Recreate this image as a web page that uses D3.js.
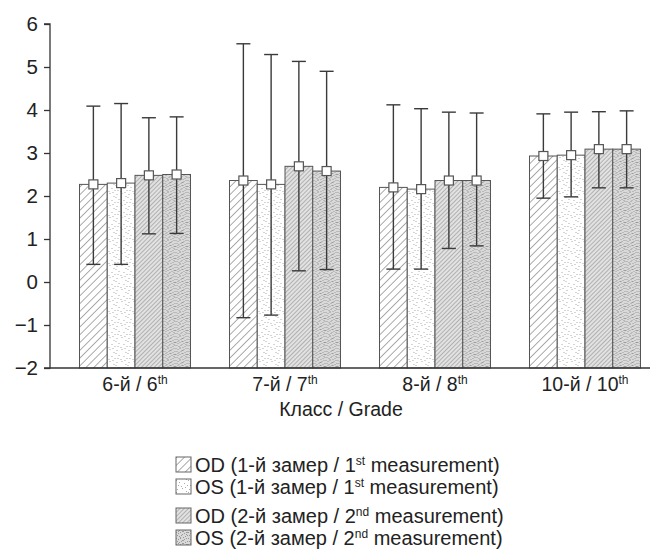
<!DOCTYPE html>
<html>
<head>
<meta charset="utf-8">
<script src="https://cdn.jsdelivr.net/npm/d3@7"></script>
<style>
  body { margin: 0; background: #fff; }
  svg { font-family: "Liberation Sans", Arial, sans-serif; }
</style>
</head>
<body>
<svg id="chart" width="665" height="554"></svg>
<script>
// grades on the x axis
const grades = ["6-й / 6", "7-й / 7", "8-й / 8", "10-й / 10"];
const gradeSup = ["th", "th", "th", "th"];
const seriesKeys = ["OD1", "OS1", "OD2", "OS2"];

// mean values (bar tops)
const meanOD1 = [2.27, 2.36, 2.20, 2.93];
const meanOS1 = [2.30, 2.27, 2.16, 2.95];
const meanOD2 = [2.48, 2.69, 2.36, 3.09];
const meanOS2 = [2.50, 2.58, 2.36, 3.09];

// error bar ends
const upperOD1 = [4.09, 5.54, 4.12, 3.91];
const upperOS1 = [4.15, 5.29, 4.03, 3.95];
const upperOD2 = [3.82, 5.13, 3.95, 3.96];
const upperOS2 = [3.84, 4.90, 3.93, 3.98];
const lowerOD1 = [0.41, -0.83, 0.30, 1.95];
const lowerOS1 = [0.41, -0.77, 0.30, 1.98];
const lowerOD2 = [1.12, 0.26, 0.78, 2.19];
const lowerOS2 = [1.13, 0.29, 0.84, 2.19];

const yTicks = [-2, -1, 0, 1, 2, 3, 4, 5, 6];

const legendLabels = [
  ["OD (1-й замер / 1", "st", " measurement)"],
  ["OS (1-й замер / 1", "st", " measurement)"],
  ["OD (2-й замер / 2", "nd", " measurement)"],
  ["OS (2-й замер / 2", "nd", " measurement)"]
];

const means = { OD1: meanOD1, OS1: meanOS1, OD2: meanOD2, OS2: meanOS2 };
const uppers = { OD1: upperOD1, OS1: upperOS1, OD2: upperOD2, OS2: upperOS2 };
const lowers = { OD1: lowerOD1, OS1: lowerOS1, OD2: lowerOD2, OS2: lowerOS2 };

const svg = d3.select("#chart");
const defs = svg.append("defs");

// --- fill patterns ---
function hatch(id, size, bg, stroke, sw) {
  const p = defs.append("pattern").attr("id", id)
    .attr("patternUnits", "userSpaceOnUse")
    .attr("width", size).attr("height", size)
    .attr("patternTransform", "rotate(45)");
  p.append("rect").attr("width", size).attr("height", size).attr("fill", bg);
  p.append("line").attr("x1", 0).attr("y1", 0).attr("x2", 0).attr("y2", size)
    .attr("stroke", stroke).attr("stroke-width", sw);
}
hatch("pOD1", 5.5, "#fff", "#666", 1.1);
hatch("pOD2", 3, "#e2e2e2", "#808080", 1);

// dot positions inside a 12x12 tile (texture only)
const sparseDots = [[1,2],[6,1],[10,4],[3,7],[8,8],[5,11],[11,10],[0,5],[9,0],[2,10]];
const denseDots = [[0,0],[2,1],[4,0],[6,2],[8,1],[10,0],[1,3],[3,4],[5,3],[7,5],[9,4],[11,3],
  [0,6],[2,7],[4,6],[6,8],[8,7],[10,6],[1,9],[3,10],[5,9],[7,11],[9,10],[11,9],
  [2,5],[7,2],[10,8],[4,11],[6,5],[11,6]];
function stipple(id, bg, dots, col, r) {
  const p = defs.append("pattern").attr("id", id)
    .attr("patternUnits", "userSpaceOnUse").attr("width", 12).attr("height", 12);
  p.append("rect").attr("width", 12).attr("height", 12).attr("fill", bg);
  p.selectAll("rect.d").data(dots).enter().append("rect").attr("class", "d")
    .attr("x", d => d[0]).attr("y", d => d[1]).attr("width", r).attr("height", r)
    .attr("fill", col);
}
stipple("pOS1", "#fff", sparseDots, "#aaa", 1);
stipple("pOS2", "#d9d9d9", denseDots, "#9a9a9a", 1);

const fills = { OD1: "url(#pOD1)", OS1: "url(#pOS1)", OD2: "url(#pOD2)", OS2: "url(#pOS2)" };

// --- scales ---
const x = d3.scaleBand().domain(grades).range([60, 660]).paddingInner(0.26).paddingOuter(0.13);
const xs = d3.scaleBand().domain(seriesKeys).range([0, x.bandwidth()]);
const y = d3.scaleLinear().domain([-2, 6]).range([368, 24]);

// --- bars ---
const groups = svg.selectAll("g.grp").data(grades).enter().append("g")
  .attr("class", "grp").attr("transform", d => `translate(${x(d)},0)`);

groups.each(function(g, gi) {
  const sel = d3.select(this);
  sel.selectAll("rect.bar").data(seriesKeys).enter().append("rect")
    .attr("class", "bar")
    .attr("x", k => xs(k))
    .attr("y", k => y(means[k][gi]))
    .attr("width", xs.bandwidth())
    .attr("height", k => y(-2) - y(means[k][gi]))
    .attr("fill", k => fills[k])
    .attr("stroke", "#555").attr("stroke-width", 1);
});

// error bars and markers
groups.each(function(g, gi) {
  const sel = d3.select(this);
  seriesKeys.forEach(k => {
    const cx = xs(k) + xs.bandwidth() / 2;
    const eb = sel.append("g").attr("stroke", "#3a3a3a").attr("stroke-width", 1.4);
    eb.append("line").attr("x1", cx).attr("x2", cx)
      .attr("y1", y(uppers[k][gi])).attr("y2", y(lowers[k][gi]));
    eb.append("line").attr("x1", cx - 7).attr("x2", cx + 7)
      .attr("y1", y(uppers[k][gi])).attr("y2", y(uppers[k][gi]));
    eb.append("line").attr("x1", cx - 7).attr("x2", cx + 7)
      .attr("y1", y(lowers[k][gi])).attr("y2", y(lowers[k][gi]));
    sel.append("rect")
      .attr("x", cx - 4.5).attr("y", y(means[k][gi]) - 4.5)
      .attr("width", 9).attr("height", 9)
      .attr("fill", "#fff").attr("stroke", "#555").attr("stroke-width", 1.2);
  });
});

// --- axes ---
const yAxis = svg.append("g").attr("transform", "translate(50,0)")
  .call(d3.axisLeft(y).tickValues(yTicks).tickSize(6).tickPadding(6));
yAxis.select(".domain").attr("d", `M-6,${y(6)}H0V${y(-2)}H-6`).attr("stroke", "#333").attr("stroke-width", 1.3);
yAxis.selectAll(".tick line").attr("stroke", "#333").attr("stroke-width", 1.3);
yAxis.selectAll(".tick text").attr("font-size", 20.5).attr("fill", "#222")
  .attr("font-family", "Liberation Sans, Arial, sans-serif");

svg.append("line").attr("x1", 50).attr("x2", 650)
  .attr("y1", y(-2)).attr("y2", y(-2)).attr("stroke", "#333").attr("stroke-width", 1.3);

// x tick labels
const xl = svg.selectAll("text.xl").data(grades).enter().append("text")
  .attr("class", "xl")
  .attr("x", d => x(d) + x.bandwidth() / 2)
  .attr("y", 391)
  .attr("text-anchor", "middle").attr("font-size", 19.5).attr("fill", "#222");
xl.append("tspan").text(d => d);
xl.append("tspan").attr("font-size", 12).attr("dy", -7).text((d, i) => gradeSup[i]);

svg.append("text").attr("x", 341).attr("y", 416).attr("text-anchor", "middle")
  .attr("font-size", 19.5).attr("fill", "#222").text("Класс / Grade");

// --- legend ---
const legendY = [465, 487, 516, 538];
const leg = svg.selectAll("g.leg").data(seriesKeys).enter().append("g")
  .attr("class", "leg").attr("transform", (d, i) => `translate(176,${legendY[i]})`);
leg.append("rect").attr("x", 0).attr("y", -8).attr("width", 15).attr("height", 15)
  .attr("fill", d => fills[d]).attr("stroke", "#666").attr("stroke-width", 1);
const lt = leg.append("text").attr("x", 19).attr("y", 6.5)
  .attr("font-size", 20).attr("fill", "#222");
lt.append("tspan").text((d, i) => legendLabels[i][0]);
lt.append("tspan").attr("font-size", 12).attr("dy", -7).text((d, i) => legendLabels[i][1]);
lt.append("tspan").attr("dy", 7).text((d, i) => legendLabels[i][2]);
</script>
</body>
</html>
